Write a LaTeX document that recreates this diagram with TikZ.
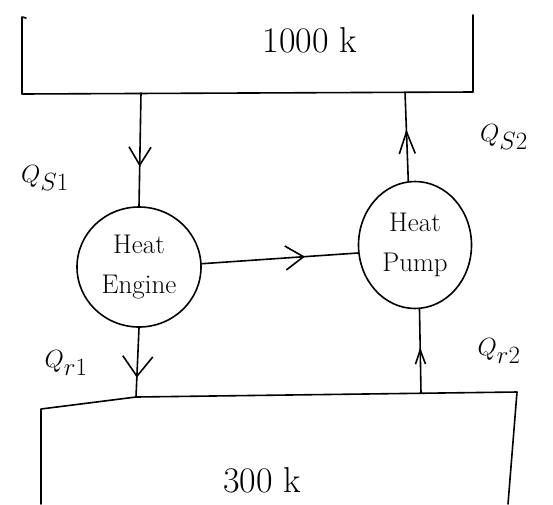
\documentclass[tikz,border=0pt]{standalone}
\usetikzlibrary{shapes.geometric,arrows.meta,decorations.markings}
\tikzset{
  ln/.style={line width=1.6pt, line cap=round, line join=round},
  dev/.style={draw, ellipse, line width=1.6pt, inner sep=0pt, align=center,
              font=\fontsize{27}{40}\selectfont},
  qlbl/.style={font=\fontsize{36}{38}\selectfont, inner sep=0pt},
  reslbl/.style={font=\fontsize{36}{38}\selectfont, inner sep=0pt},
  midtip/.style n args={3}{postaction={decorate},
     decoration={markings, mark=at position #1 with
       {\arrow[line width=1.6pt]{Straight Barb[length=#2pt,width=#3pt]}}}},
}
\begin{document}
\begin{tikzpicture}[x=1pt,y=-1pt]
\useasboundingbox (0,0) rectangle (553,504);
% reservoirs
\draw[ln] (26,18) -- (22,17) -- (22,94) -- (473,92) -- (473,15);
\draw[ln] (41,504) -- (41,409) -- (136,397) -- (517,392) -- (508,504);
\coordinate (t1) at (141,93);
\coordinate (t2) at (405,92);
\coordinate (b1) at (136,397);
\coordinate (b2) at (421,393);
\node[reslbl] (hot) at (310,40) {1000 k};
\node[reslbl] (cold) at (262,480) {300 k};
% devices
\node[dev, minimum width=124pt, minimum height=120pt] (he) at (139,267) {Heat\\Engine};
\node[dev, minimum width=113pt, minimum height=127pt] (hp) at (415,245) {Heat\\Pump};
% connectors
\draw[ln, midtip={0.65}{18}{22}] (t1) -- (he.north);
\draw[ln, midtip={0.58}{22}{16}] (hp.96) -- (t2);
\draw[ln, midtip={0.66}{18}{24}] (he.3) -- (hp.188);
\draw[ln, midtip={0.72}{20}{30}] (he.south) -- (b1);
\draw[ln, midtip={0.54}{14}{10}] (b2) -- (hp.-86);
% labels
\node[qlbl] (qs1) at (45,178) {$Q_{S1}$};
\node[qlbl] (qs2) at (504,137) {$Q_{S2}$};
\node[qlbl] (qr1) at (66,363) {$Q_{r1}$};
\node[qlbl] (qr2) at (499,351) {$Q_{r2}$};
\end{tikzpicture}
\end{document}
